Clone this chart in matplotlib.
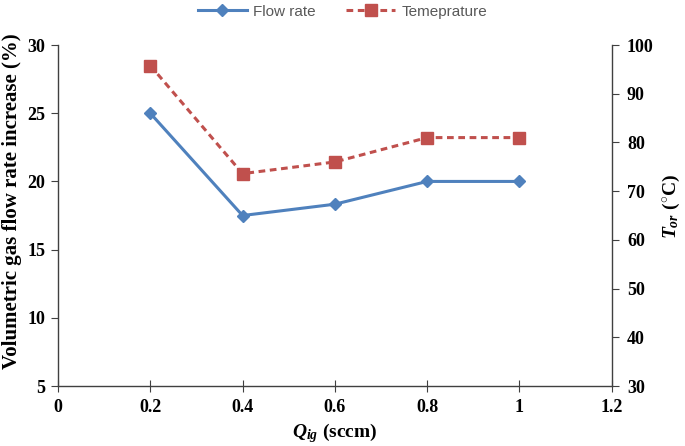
import matplotlib
matplotlib.use("Agg")
import matplotlib.pyplot as plt
from matplotlib.lines import Line2D

# data
q_ig = [0.2, 0.4, 0.6, 0.8, 1.0]
flow_rate = [25.0, 17.5, 18.33, 20.0, 20.0]
temperature = [95.8, 73.6, 76.0, 81.0, 81.0]

x_ticks = [0, 0.2, 0.4, 0.6, 0.8, 1, 1.2]
x_labels = ['0', '0.2', '0.4', '0.6', '0.8', '1', '1.2']
left_ticks = [5, 10, 15, 20, 25, 30]
right_ticks = [30, 40, 50, 60, 70, 80, 90, 100]

blue = '#4F81BD'
red = '#C0504D'
axis_col = '#404040'

plt.rcParams['font.family'] = 'Liberation Serif'
plt.rcParams['mathtext.fontset'] = 'custom'
plt.rcParams['mathtext.it'] = 'Liberation Serif:italic:bold'
plt.rcParams['mathtext.rm'] = 'Liberation Serif:bold'
plt.rcParams['mathtext.bf'] = 'Liberation Serif:bold'

fig = plt.figure(figsize=(6.85, 4.46), dpi=100)
ax = fig.add_axes([0.0847, 0.1345, 0.8083, 0.7645])
ax2 = ax.twinx()

ax.plot(q_ig, flow_rate, color=blue, linewidth=2.2, marker='D', markersize=6)
ax2.plot(q_ig, temperature, color=red, linewidth=2.2, linestyle=(0, (2.2, 1.5)),
         marker='s', markersize=8)

ax.set_xlim(0, 1.2)
ax.set_ylim(5, 30)
ax2.set_ylim(30, 100)
ax.set_xticks(x_ticks)
ax.set_xticklabels(x_labels)
ax.set_yticks(left_ticks)
ax2.set_yticks(right_ticks)

for a in (ax, ax2):
    a.spines['top'].set_visible(False)
    for s in ['left', 'right', 'bottom']:
        a.spines[s].set_color(axis_col)
        a.spines[s].set_linewidth(1.0)
ax.spines['right'].set_visible(False)
ax2.spines['left'].set_visible(False)
ax2.spines['bottom'].set_visible(False)

ax.tick_params(axis='y', direction='out', length=5, color=axis_col, labelsize=13, pad=4)
ax.tick_params(axis='x', direction='inout', length=8, color=axis_col, labelsize=13, pad=5)
ax2.tick_params(axis='y', direction='out', length=5, color=axis_col, labelsize=13, pad=6)
for lab in ax.get_xticklabels() + ax.get_yticklabels() + ax2.get_yticklabels():
    lab.set_fontweight('bold')

ax.set_xlabel(r'$Q_{ig}$ (sccm)', fontsize=14, fontweight='bold', labelpad=4)
ax.set_ylabel('Volumetric gas flow rate increase (%)', fontsize=15, fontweight='bold')
ax.yaxis.set_label_coords(-0.065, 0.542)
ax2.set_ylabel(r'$T_{or}$ ($\mathrm{^{\circ}}$C)', fontsize=14, fontweight='bold')
ax2.yaxis.set_label_coords(1.088, 0.528)

handles = [Line2D([], [], color=blue, linewidth=2.2, marker='D', markersize=6),
           Line2D([], [], color=red, linewidth=2.2, linestyle=(0, (2.2, 1.5)),
                  marker='s', markersize=8)]
leg = fig.legend(handles, ['Flow rate', 'Temeprature'], loc='upper center',
                 bbox_to_anchor=(0.5, 1.02), ncol=2, frameon=False,
                 prop={'family': 'Liberation Sans', 'size': 11},
                 handlelength=3.2, columnspacing=2.0, handletextpad=0.4)
for t in leg.get_texts():
    t.set_color('#595959')

fig.savefig('out.png', dpi=100)
